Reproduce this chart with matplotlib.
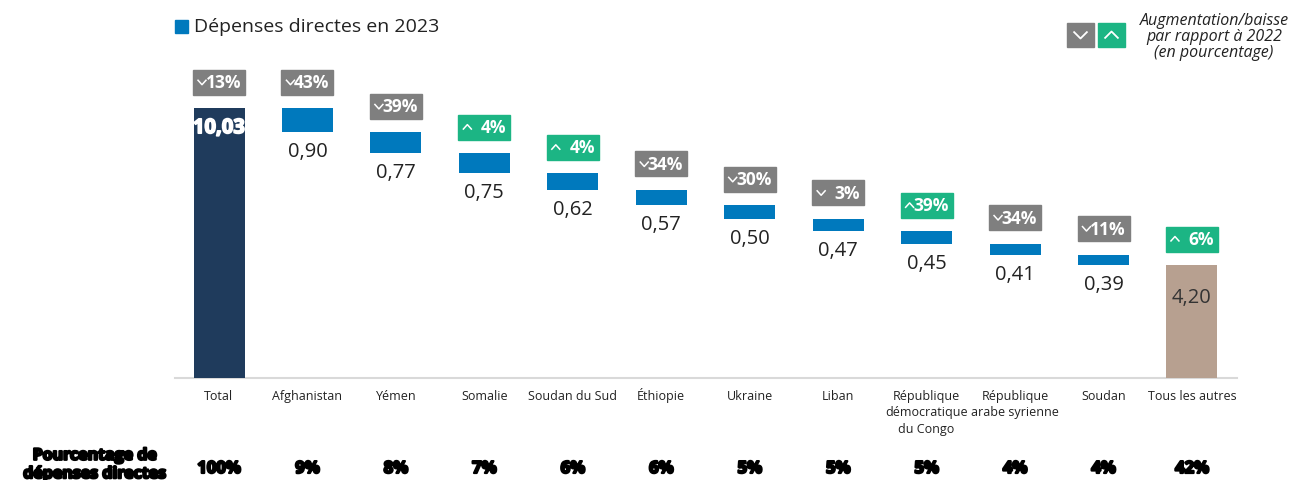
import matplotlib.pyplot as plt
import matplotlib.patheffects as pe
from matplotlib.patches import Rectangle

plt.rcParams['font.family'] = ['Open Sans', 'DejaVu Sans']

# data
categories = ["Total", "Afghanistan", "Yémen", "Somalie", "Soudan du Sud", "Éthiopie",
              "Ukraine", "Liban", "République\ndémocratique\ndu Congo",
              "République\narabe syrienne", "Soudan", "Tous les autres"]
values = [10.03, 0.90, 0.77, 0.75, 0.62, 0.57, 0.50, 0.47, 0.45, 0.41, 0.39, 4.20]
changes = [-13, -43, -39, 4, 4, -34, -30, -3, 39, -34, -11, 6]
shares = ["100%", "9%", "8%", "7%", "6%", "6%", "5%", "5%", "5%", "4%", "4%", "42%"]

NAVY = '#1f3b5c'
BLUE = '#0079bd'
BROWN = '#b7a090'
GREY = '#7f7f7f'
GREEN = '#1cb584'
BLACK_FX = [pe.withStroke(linewidth=1.6, foreground='black')]
WHITE_FX = [pe.withStroke(linewidth=1.2, foreground='white')]

# pixel scale helpers (figure is 1291x481 px, one category = 88.45 px, one unit = 26.9 px)
SX, SY = 88.45, 26.9
def dx(p):
    return p / SX
def dy(p):
    return p / SY

fig = plt.figure(figsize=(12.91, 4.81), dpi=100)
ax = fig.add_axes([0, 0, 1, 1])
ax.set_xlim(-219 / SX, (1291 - 219) / SX)
ax.set_ylim(-(481 - 379) / SY, 379 / SY)
ax.axis('off')

# waterfall bottoms
bottoms = []
running = values[0]
for i, v in enumerate(values):
    if i == 0 or i == len(values) - 1:
        bottoms.append(0)
    else:
        running -= v
        bottoms.append(running)

colors = [NAVY] + [BLUE] * (len(values) - 2) + [BROWN]
x = list(range(len(values)))
ax.bar(x, values, bottom=bottoms, width=dx(51), color=colors, zorder=2)

# baseline
ax.plot([dx(175 - 219), dx(1237 - 219)], [0, 0], color='#d9d9d9', lw=1.5, zorder=1)


def chevron(cx, cy, up, w, h, lw=1.1):
    s = 1 if up else -1
    ax.plot([cx - dx(w / 2), cx, cx + dx(w / 2)],
            [cy - s * dy(h / 2), cy + s * dy(h / 2), cy - s * dy(h / 2)],
            color='white', lw=lw, solid_capstyle='butt', zorder=4)


for i, v in enumerate(values):
    top = bottoms[i] + v
    # change badge
    bc = top + dy(26)
    col = GREEN if changes[i] > 0 else GREY
    ax.add_patch(Rectangle((i - dx(26), bc - dy(12.5)), dx(52), dy(25),
                           color=col, zorder=3))
    chevron(i - dx(17), bc, changes[i] > 0, 9, 5)
    ax.text(i + dx(22), bc, f"{abs(changes[i])}%", ha='right', va='center',
            color='white', fontsize=12.5, fontweight='bold', zorder=4)

    # value labels
    lab = f"{v:.2f}".replace('.', ',')
    if i == 0:
        ax.text(i, top - dy(20), lab, ha='center', va='center', color='white',
                fontsize=14.5, fontweight='bold', path_effects=WHITE_FX, zorder=4)
    elif i == len(values) - 1:
        ax.text(i, top - dy(32), lab, ha='center', va='center', color='#333333',
                fontsize=14.5, zorder=4)
    else:
        ax.text(i, bottoms[i] - dy(19), lab, ha='center', va='center',
                color='#222222', fontsize=14.5, zorder=4)

    # category labels, one line at a time on fixed baselines
    for k, line in enumerate(categories[i].split('\n')):
        ax.text(i, -dy(21 + 16.5 * k), line, ha='center', va='baseline',
                fontsize=9, color='#222222')

    # share of direct spending
    ax.text(i, -dy(90), shares[i], ha='center', va='center', fontsize=12,
            fontweight='bold', path_effects=BLACK_FX, color='black')

ax.text(dx(95 - 219), -dy(87), "Pourcentage de\ndépenses directes", ha='center',
        va='center', fontsize=11.5, fontweight='bold', path_effects=BLACK_FX,
        color='black', linespacing=1.2)

# legend
ax.add_patch(Rectangle((dx(175 - 219), dy(379 - 34)), dx(13), dy(13), color=BLUE))
ax.text(dx(194 - 219), dy(379 - 27), "Dépenses directes en 2023", ha='left',
        va='center', fontsize=14, color='#222222')

# top-right key
ax.add_patch(Rectangle((dx(1067 - 219), dy(379 - 48)), dx(27), dy(24), color=GREY))
ax.add_patch(Rectangle((dx(1098 - 219), dy(379 - 48)), dx(27), dy(24), color=GREEN))
chevron(dx(1080.5 - 219), dy(379 - 36), False, 14, 7, lw=1.3)
chevron(dx(1111.5 - 219), dy(379 - 36), True, 14, 7, lw=1.3)
ax.text(dx(1214 - 219), dy(379 - 37),
        "Augmentation/baisse\npar rapport à 2022\n(en pourcentage)",
        ha='center', va='center', fontsize=11.5, style='italic', color='#222222',
        linespacing=1.02)

fig.savefig('out.png', dpi=100)
